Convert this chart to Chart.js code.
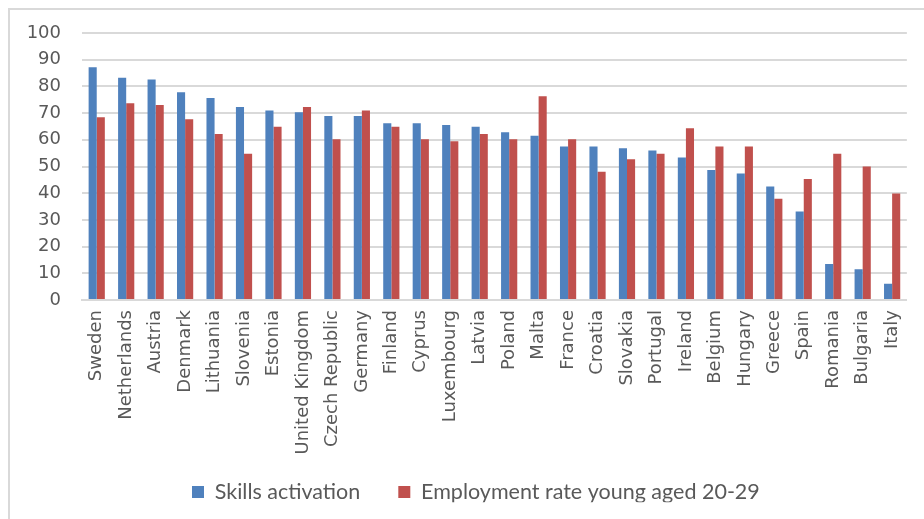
<!DOCTYPE html>
<html>
<head>
<meta charset="utf-8">
<script src="https://cdn.jsdelivr.net/npm/chart.js@4.4.1/dist/chart.umd.min.js"></script>
<style>
  html, body { margin: 0; padding: 0; background: #ffffff; }
  #wrap { position: relative; width: 924px; height: 519px; }
</style>
</head>
<body>
<div id="wrap"><canvas id="c" width="924" height="519"></canvas></div>
<script>
const countries = ['Sweden','Netherlands','Austria','Denmark','Lithuania','Slovenia','Estonia','United Kingdom','Czech Republic','Germany','Finland','Cyprus','Luxembourg','Latvia','Poland','Malta','France','Croatia','Slovakia','Portugal','Ireland','Belgium','Hungary','Greece','Spain','Romania','Bulgaria','Italy'];
const skillsActivation = [87.2,83.2,82.6,77.8,75.7,72.3,71.0,70.3,68.9,68.9,66.2,66.2,65.5,64.9,62.8,61.5,57.5,57.5,56.8,56.0,53.4,48.7,47.4,42.5,33.1,13.5,11.5,6.1];
const employmentYoung = [68.4,73.7,73.0,67.7,62.2,54.8,64.9,72.3,60.2,71.0,64.9,60.2,59.5,62.2,60.2,76.3,60.2,48.0,52.7,54.8,64.3,57.5,57.5,37.9,45.3,54.8,50.0,39.9];
const seriesNames = ['Skills activation','Employment rate young aged 20-29'];
const yTicks = [0,10,20,30,40,50,60,70,80,90,100];

const LEGEND_FIRST_X = 192;
const LEGEND_CENTER_Y = 492;

const frameAndLegend = {
  id: 'frameAndLegend',
  beforeDraw(chart) {
    const ctx = chart.ctx;
    ctx.save();
    ctx.strokeStyle = '#d9d9d9';
    ctx.lineWidth = 2;
    ctx.beginPath();
    ctx.moveTo(9, 519);
    ctx.lineTo(9, 9);
    ctx.lineTo(924, 9);
    ctx.stroke();
    ctx.restore();
    const lg = chart.legend;
    if (lg && lg.lineWidths) {
      const pad = lg.options.labels.padding;
      const fs = lg.options.labels.font.size;
      const cur = (lg.left + pad + lg.right - lg.lineWidths[0]) / 2;
      const shift = LEGEND_FIRST_X - cur;
      lg.left += shift;
      lg.right += shift;
      const h = lg.bottom - lg.top;
      lg.top = LEGEND_CENTER_Y - pad - fs / 2;
      lg.bottom = lg.top + h;
    }
  }
};

new Chart(document.getElementById('c'), {
  type: 'bar',
  data: {
    labels: countries,
    datasets: [
      { label: seriesNames[0], data: skillsActivation, backgroundColor: '#4F81BD' },
      { label: seriesNames[1], data: employmentYoung, backgroundColor: '#C0504D' }
    ]
  },
  options: {
    responsive: false,
    animation: false,
    devicePixelRatio: 1,
    layout: { padding: { left: 0, right: 15, top: 33, bottom: 0 } },
    datasets: { bar: { categoryPercentage: 0.55, barPercentage: 1.0 } },
    scales: {
      x: {
        grid: { display: false, drawTicks: false },
        border: { display: true, color: '#d9d9d9', width: 2 },
        ticks: {
          autoSkip: false, minRotation: 90, maxRotation: 90, padding: 10,
          color: '#595959', font: { family: 'DejaVu Sans', size: 18 }
        },
        afterFit(scale) { scale.height = 160; }
      },
      y: {
        min: 0, max: 100,
        afterBuildTicks(scale) { scale.ticks = yTicks.map(v => ({ value: v })); },
        grid: { color: '#d9d9d9', lineWidth: 2, drawTicks: false },
        border: { display: false },
        ticks: {
          padding: 21, color: '#595959',
          font: { family: 'DejaVu Sans', size: 18 }
        },
        afterFit(scale) { scale.width = 82; }
      }
    },
    plugins: {
      legend: {
        position: 'bottom',
        maxHeight: 59,
        labels: {
          boxWidth: 12, boxHeight: 12, padding: 38,
          color: '#595959', font: { family: 'Lato', size: 21.5 }
        }
      },
      tooltip: { enabled: false }
    }
  },
  plugins: [frameAndLegend]
});
</script>
</body>
</html>
